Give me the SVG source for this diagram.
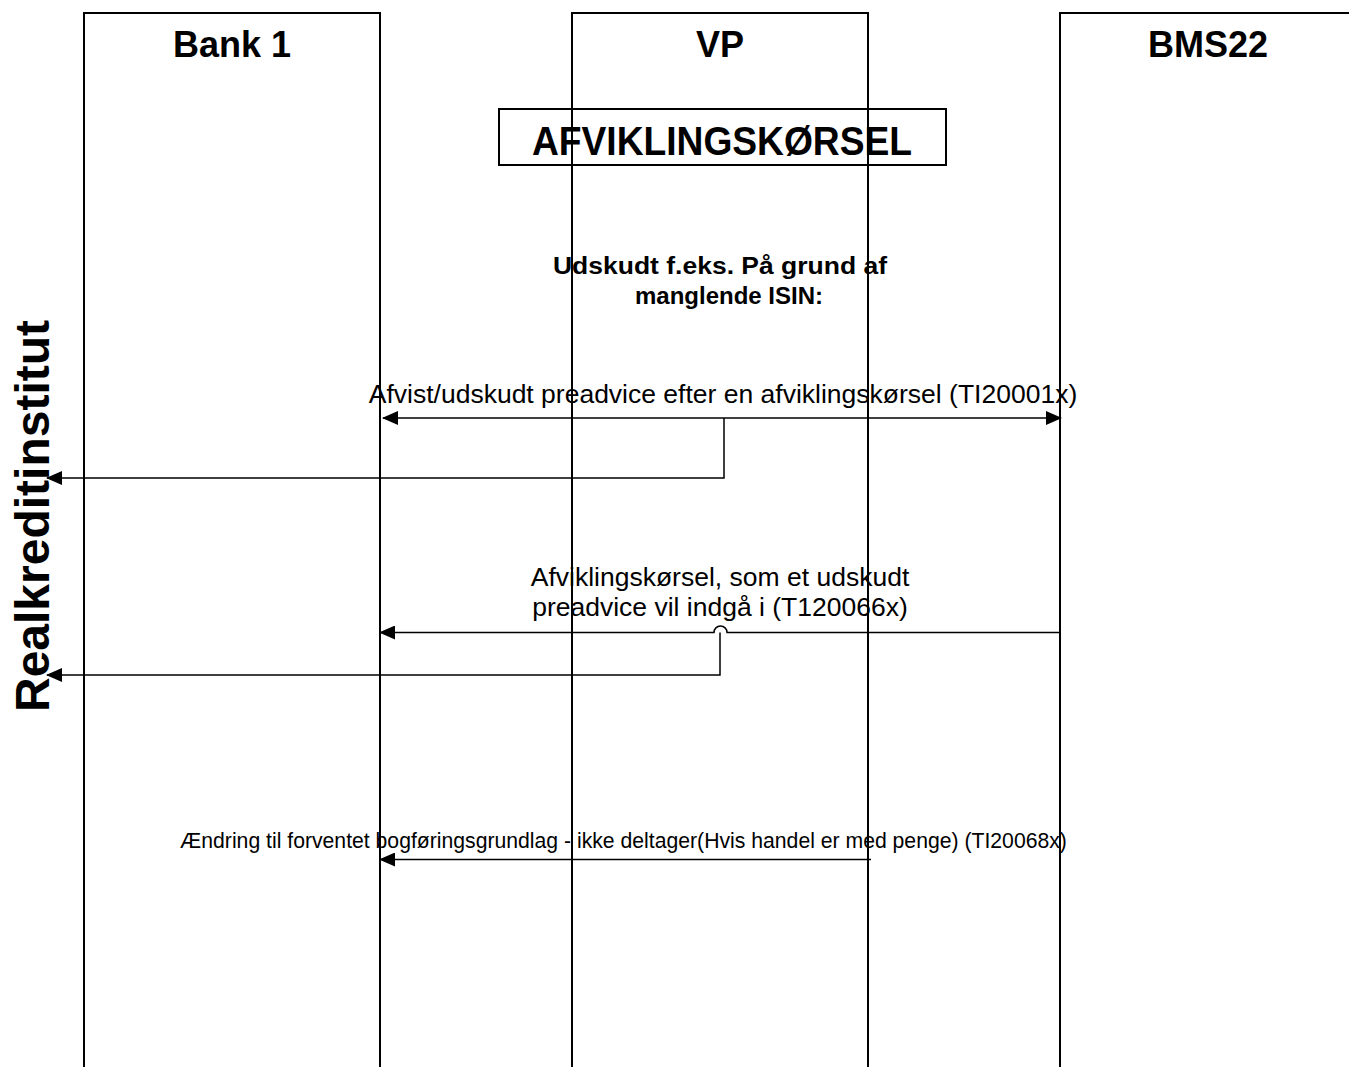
<svg xmlns="http://www.w3.org/2000/svg" width="1349" height="1067" viewBox="0 0 1349 1067">
<defs>
<style>
.box{fill:none;stroke:#000;stroke-width:2}
.ln{fill:none;stroke:#000;stroke-width:1.5}
.hd{font-family:"Liberation Sans",Arial,sans-serif;font-weight:bold;font-size:36px;text-anchor:middle;fill:#000}
.msg{font-family:"Liberation Sans",Arial,sans-serif;font-size:26.5px;text-anchor:middle;fill:#000}
.msg-s{font-family:"Liberation Sans",Arial,sans-serif;font-size:21.2px;text-anchor:middle;fill:#000}
.note{font-family:"Liberation Sans",Arial,sans-serif;font-weight:bold;font-size:24px;text-anchor:middle;fill:#000}
</style>
<marker id="ah" viewBox="0 0 16 14" refX="15" refY="7" markerWidth="16" markerHeight="14" markerUnits="userSpaceOnUse" orient="auto-start-reverse">
<path d="M0,0 L16,7 L0,14 Z" fill="#000"/>
</marker>
</defs>
<rect width="1349" height="1067" fill="#fff"/>
<g id="bank1">
<path class="box" d="M84,1067 V13 H380 V1067"/>
<text class="hd" x="232" y="57">Bank 1</text>
</g>
<g id="vp">
<path class="box" d="M572,1067 V13 H868 V1067"/>
<text class="hd" x="720" y="57">VP</text>
</g>
<g id="bms22">
<path class="box" d="M1060,1067 V13 H1360"/>
<text class="hd" x="1208" y="57">BMS22</text>
</g>
<g id="afvikling">
<rect class="box" x="499" y="109" width="447" height="56"/>
<text x="722" y="155" font-family="Liberation Sans,Arial,sans-serif" font-weight="bold" font-size="40" text-anchor="middle" textLength="380" lengthAdjust="spacingAndGlyphs">AFVIKLINGSKØRSEL</text>
</g>
<g id="realkredit">
<text x="0" y="0" transform="translate(49,516) rotate(-90)" font-family="Liberation Sans,Arial,sans-serif" font-weight="bold" font-size="48" text-anchor="middle">Realkreditinstitut</text>
</g>
<g id="note">
<text class="note" x="720" y="274" textLength="334" lengthAdjust="spacingAndGlyphs">Udskudt f.eks. På grund af</text>
<text class="note" x="729" y="304">manglende ISIN:</text>
</g>
<g id="connectors">
<line class="ln" x1="383" y1="418" x2="1061" y2="418" marker-start="url(#ah)" marker-end="url(#ah)"/>
<path class="ln" d="M724,418 V478 H47" marker-end="url(#ah)"/>
<path class="ln" d="M1060,632.5 H727 A6.5,6.5 0 0 0 714,632.5 H380" marker-end="url(#ah)"/>
<path class="ln" d="M720,632.5 V675 H47" marker-end="url(#ah)"/>
<line class="ln" x1="871" y1="859.5" x2="380" y2="859.5" marker-end="url(#ah)"/>
</g>
<g id="labels">
<text class="msg" x="723" y="403">Afvist/udskudt preadvice efter en afviklingskørsel (TI20001x)</text>
<text class="msg" x="720" y="586">Afviklingskørsel, som et udskudt</text>
<text class="msg" x="720" y="616">preadvice vil indgå i (T120066x)</text>
<text class="msg-s" x="623.5" y="848">Ændring til forventet bogføringsgrundlag - ikke deltager(Hvis handel er med penge) (TI20068x)</text>
</g>
</svg>
